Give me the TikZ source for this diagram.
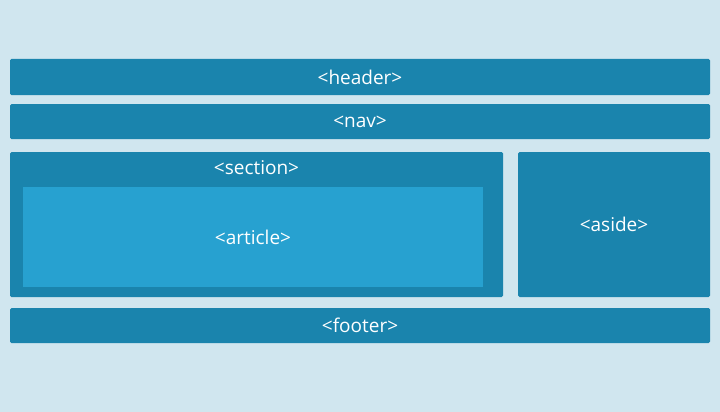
\documentclass[tikz,border=0pt]{standalone}
\usepackage{fontspec}
\setmainfont{Open Sans}
\definecolor{bg}{HTML}{D0E6EF}
\definecolor{bar}{HTML}{1A84AD}
\definecolor{art}{HTML}{27A1D0}
\begin{document}
\begin{tikzpicture}[x=1pt,y=-1pt,
  blk/.style={fill=bar,draw=none,rounded corners=1.5pt},
  lbl/.style={text=white,font=\fontsize{19}{22}\selectfont}]
\fill[bg] (0,0) rectangle (720,412);
\useasboundingbox (0,0) rectangle (720,412);
\fill[blk] (10,59) rectangle coordinate (h) (710,95);
\node[lbl] (header) at (h) {<header>};
\fill[blk] (10,104) rectangle coordinate (n) (710,139);
\node[lbl] (nav) at (n) {<nav>};
\fill[blk] (10,152) rectangle (503,297);
\node[lbl] (section) at (256.5,168) {<section>};
\fill[art] (23,187) rectangle coordinate (a) (483,287);
\node[lbl] (article) at (a) {<article>};
\fill[blk] (518,152) rectangle coordinate (s) (710,297);
\node[lbl] (aside) at (s) {<aside>};
\fill[blk] (10,308) rectangle coordinate (f) (710,343);
\node[lbl] (footer) at (f) {<footer>};
\end{tikzpicture}
\end{document}
